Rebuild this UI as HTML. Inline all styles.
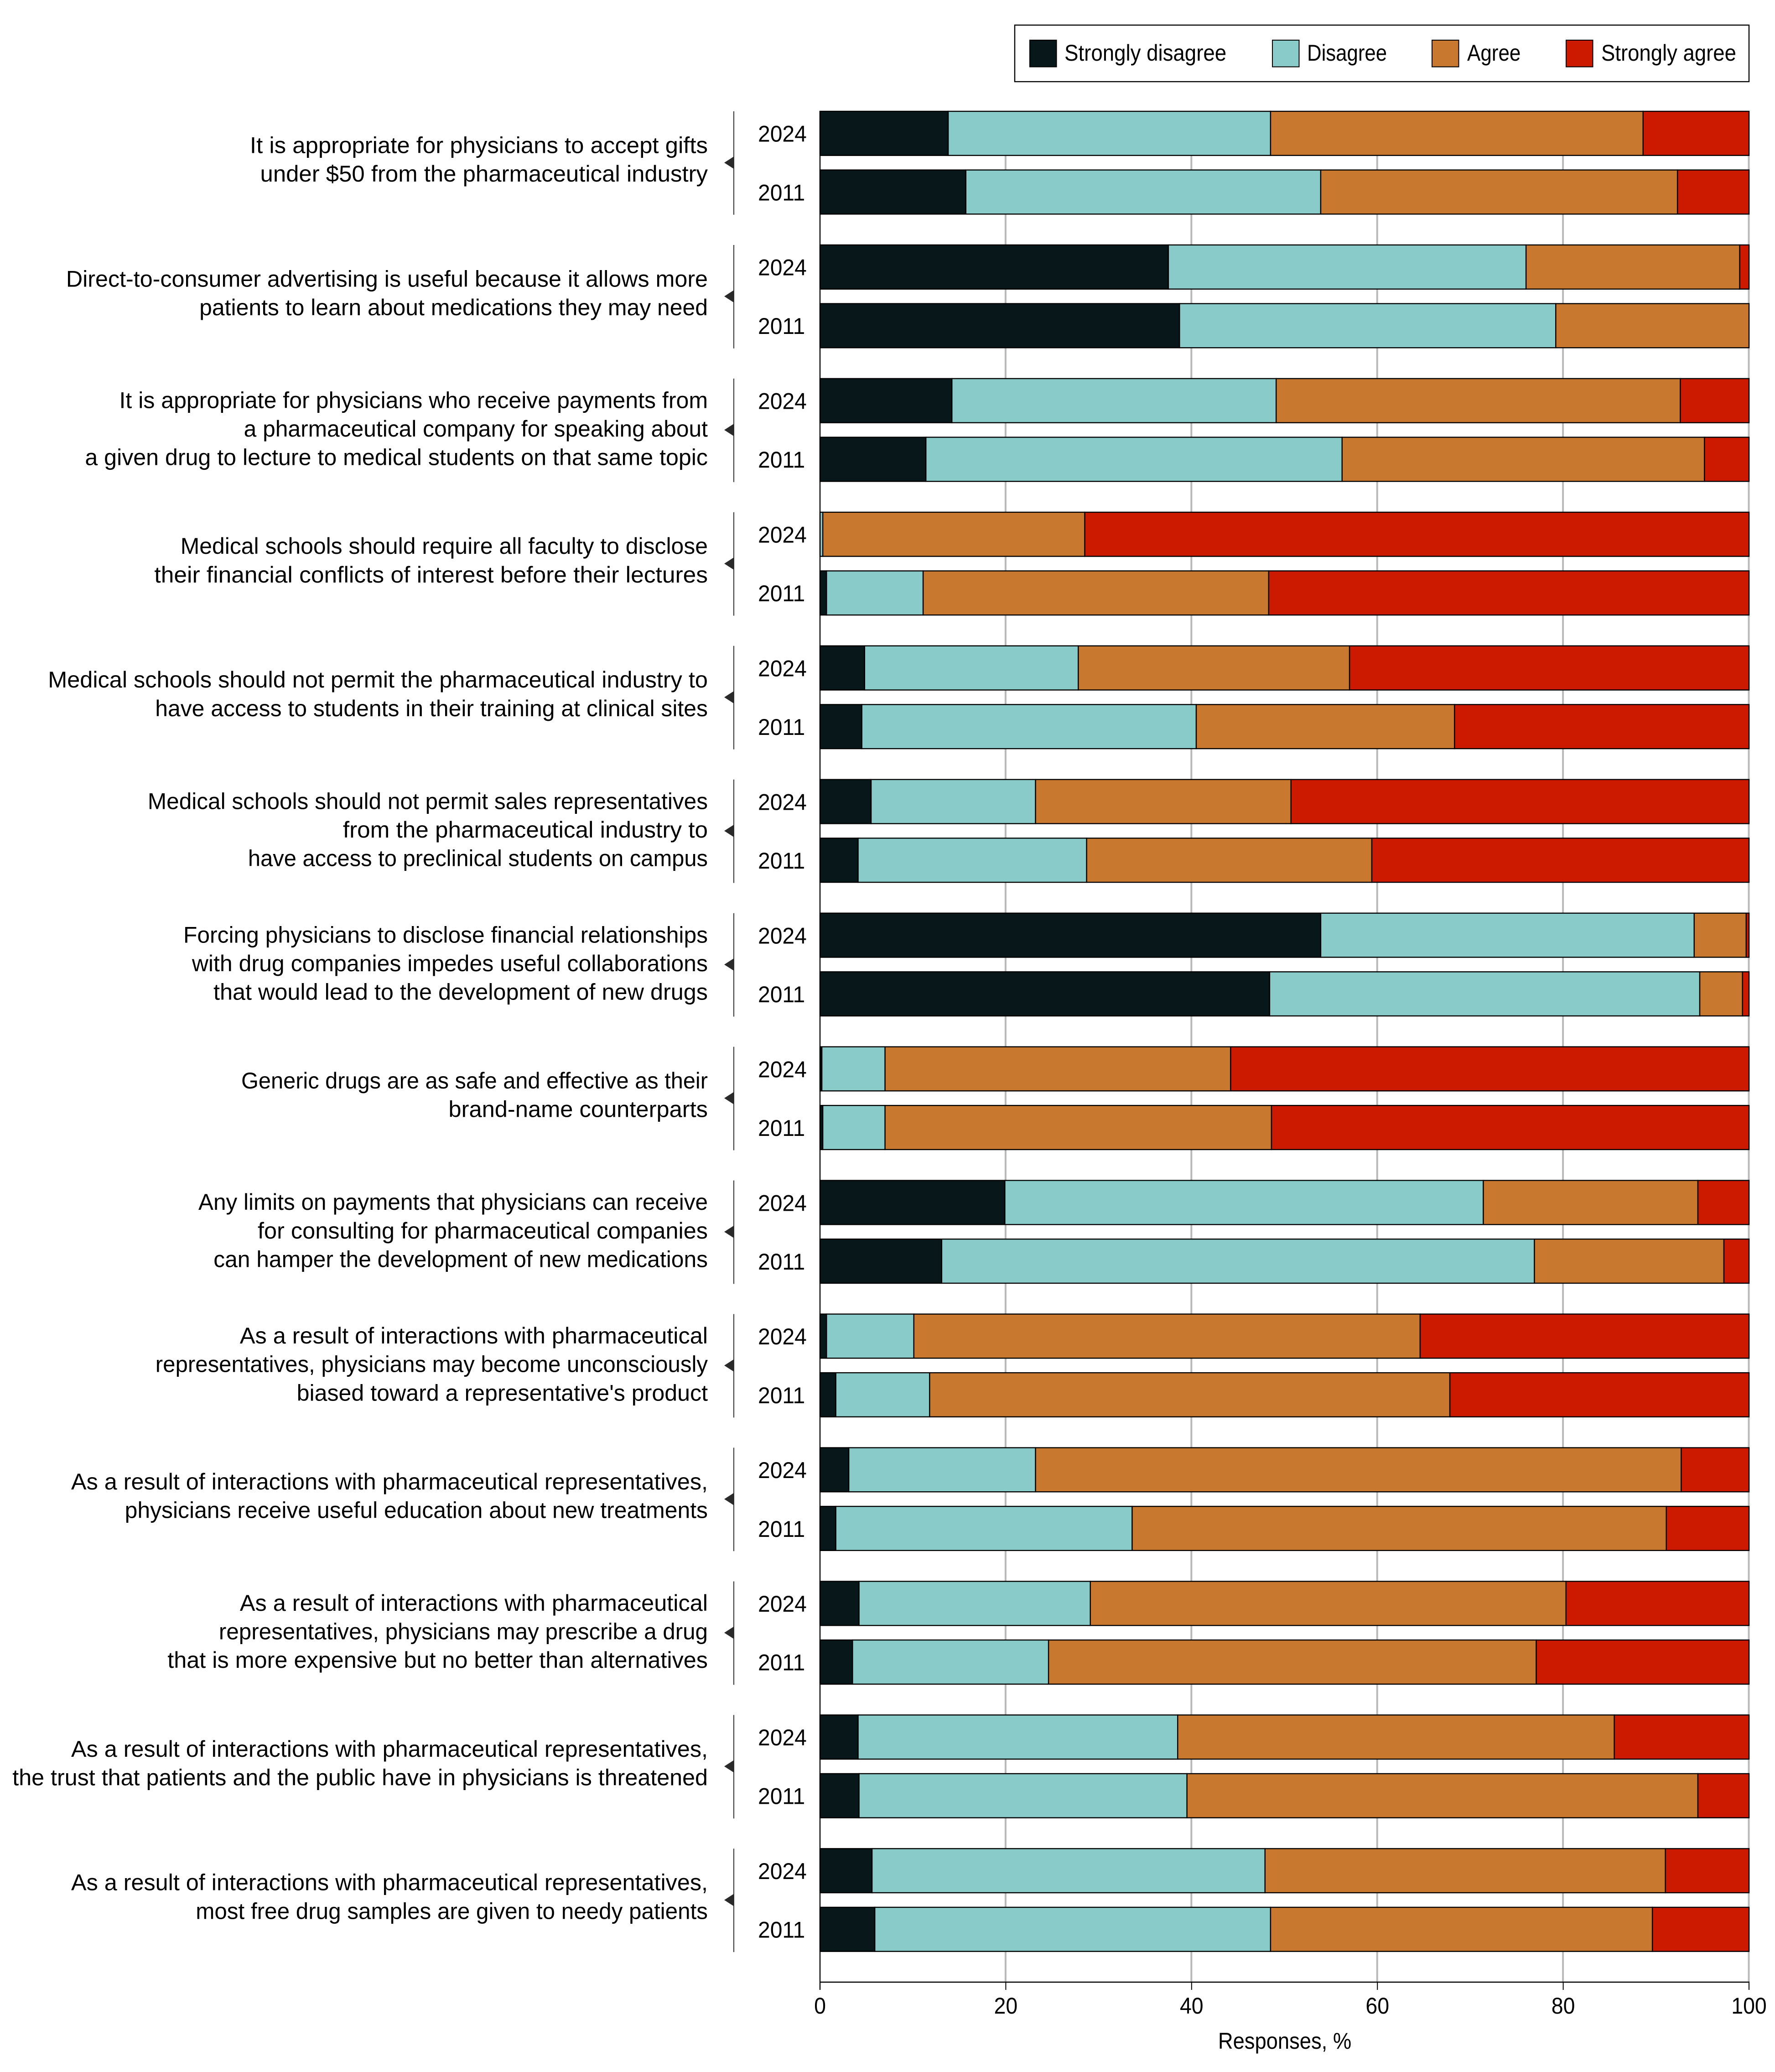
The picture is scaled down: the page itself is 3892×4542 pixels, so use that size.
<!DOCTYPE html>
<html lang="en">
<head>
<meta charset="utf-8">
<title>Physician attitudes toward the pharmaceutical industry, 2011 vs 2024</title>
<style>
  html, body { margin: 0; padding: 0; background: #fff; }
  svg { display: block; }
  text { font-family: "Liberation Sans", sans-serif; fill: #000; }
</style>
</head>
<body>
<svg id="chart" xmlns="http://www.w3.org/2000/svg" width="3892" height="4542" viewBox="0 0 3892 4542">
  <rect x="0" y="0" width="3892" height="4542" fill="#ffffff"/>
  <g id="grid"></g>
  <g id="bars"></g>
  <g id="axis"></g>
  <g id="labels"></g>
  <g>
    <rect x="2225" y="55" width="1610" height="124" fill="#fff" stroke="#000" stroke-width="2.4"/>
    <rect x="2258" y="88" width="58.5" height="58.5" fill="#08181a" stroke="#000" stroke-width="2"/>
    <text transform="translate(2334,133) scale(0.913,1)" font-size="50">Strongly disagree</text>
    <rect x="2790" y="88" width="58.5" height="58.5" fill="#89cbc8" stroke="#000" stroke-width="2"/>
    <text transform="translate(2866,133) scale(0.875,1)" font-size="50">Disagree</text>
    <rect x="3140" y="88" width="58.5" height="58.5" fill="#c8792f" stroke="#000" stroke-width="2"/>
    <text transform="translate(3217,133) scale(0.88,1)" font-size="50">Agree</text>
    <rect x="3434" y="88" width="58.5" height="58.5" fill="#cc1a00" stroke="#000" stroke-width="2"/>
    <text transform="translate(3511,133) scale(0.91,1)" font-size="50">Strongly agree</text>
  </g>
  <text transform="translate(2817,4491) scale(0.907,1)" font-size="50" text-anchor="middle">Responses, %</text>
</svg>
<script>
const statements = [
  ["It is appropriate for physicians to accept gifts", "under $50 from the pharmaceutical industry"],
  ["Direct-to-consumer advertising is useful because it allows more", "patients to learn about medications they may need"],
  ["It is appropriate for physicians who receive payments from", "a pharmaceutical company for speaking about", "a given drug to lecture to medical students on that same topic"],
  ["Medical schools should require all faculty to disclose", "their financial conflicts of interest before their lectures"],
  ["Medical schools should not permit the pharmaceutical industry to", "have access to students in their training at clinical sites"],
  ["Medical schools should not permit sales representatives", "from the pharmaceutical industry to", "have access to preclinical students on campus"],
  ["Forcing physicians to disclose financial relationships", "with drug companies impedes useful collaborations", "that would lead to the development of new drugs"],
  ["Generic drugs are as safe and effective as their", "brand-name counterparts"],
  ["Any limits on payments that physicians can receive", "for consulting for pharmaceutical companies", "can hamper the development of new medications"],
  ["As a result of interactions with pharmaceutical", "representatives, physicians may become unconsciously", "biased toward a representative's product"],
  ["As a result of interactions with pharmaceutical representatives,", "physicians receive useful education about new treatments"],
  ["As a result of interactions with pharmaceutical", "representatives, physicians may prescribe a drug", "that is more expensive but no better than alternatives"],
  ["As a result of interactions with pharmaceutical representatives,", "the trust that patients and the public have in physicians is threatened"],
  ["As a result of interactions with pharmaceutical representatives,", "most free drug samples are given to needy patients"]
];
const years = ["2024", "2011"];
const xTicks = [0, 20, 40, 60, 80, 100];

const stronglyDisagree2024 = [13.8, 37.5, 14.2, 0, 4.8, 5.5, 53.9, 0.2, 19.9, 0.7, 3.1, 4.2, 4.1, 5.6];
const disagree2024 = [34.7, 38.5, 34.9, 0.3, 23.0, 17.7, 40.2, 6.8, 51.5, 9.4, 20.1, 24.9, 34.4, 42.3];
const agree2024 = [40.1, 23.0, 43.5, 28.2, 29.2, 27.5, 5.6, 37.2, 23.1, 54.5, 69.5, 51.2, 47.0, 43.1];
const stronglyAgree2024 = [11.4, 1.0, 7.4, 71.5, 43.0, 49.3, 0.3, 55.8, 5.5, 35.4, 7.3, 19.7, 14.5, 9.0];

const stronglyDisagree2011 = [15.7, 38.7, 11.4, 0.7, 4.5, 4.1, 48.4, 0.3, 13.1, 1.7, 1.7, 3.5, 4.2, 5.9];
const disagree2011 = [38.2, 40.5, 44.8, 10.4, 36.0, 24.6, 46.3, 6.7, 63.8, 10.1, 31.9, 21.1, 35.3, 42.6];
const agree2011 = [38.4, 20.8, 39.0, 37.2, 27.8, 30.7, 4.6, 41.6, 20.4, 56.0, 57.5, 52.5, 55.0, 41.1];
const stronglyAgree2011 = [7.7, 0, 4.8, 51.7, 31.7, 40.6, 0.7, 51.4, 2.7, 32.2, 8.9, 22.9, 5.5, 10.4];

/* horizontal glyph fit for each statement line (type layout, not chart data) */
const lineFit = [
  [1.018, 1.018], [1.005, 0.998], [1.001, 0.995, 1.003], [0.998, 1.03],
  [1.009, 0.998], [0.991, 1.025, 0.978], [0.995, 1.0, 1.008], [0.975, 1.013],
  [0.99, 1.009, 0.995], [1.009, 0.984, 1.003], [1.007, 0.998], [1.009, 0.987, 1.008],
  [1.007, 1.005], [1.007, 0.988]
];

const SVGNS = "http://www.w3.org/2000/svg";
const segmentNames = ["strongly-disagree", "disagree", "agree", "strongly-agree"];
const segmentColors = ["#08181a", "#89cbc8", "#c8792f", "#cc1a00"];
const valuesByYear = [
  [stronglyDisagree2024, disagree2024, agree2024, stronglyAgree2024],
  [stronglyDisagree2011, disagree2011, agree2011, stronglyAgree2011]
];

const X0 = 1798, X100 = 3835;
function xScale(v) { return X0 + (X100 - X0) * v / 100; }
const GROUP_TOP = 244, GROUP_PITCH = 292.95, BAR_STEP = 128.6, BAR_H = 96.7;
function barTop(group, yearIndex) { return GROUP_TOP + group * GROUP_PITCH + yearIndex * BAR_STEP; }
function groupCenter(group) { return GROUP_TOP + group * GROUP_PITCH + (BAR_STEP + BAR_H) / 2; }

function make(tag, attrs, parent, content) {
  const el = document.createElementNS(SVGNS, tag);
  for (const k in attrs) el.setAttribute(k, attrs[k]);
  if (content !== undefined) el.textContent = content;
  parent.appendChild(el);
  return el;
}

const gridG = document.getElementById("grid");
const barsG = document.getElementById("bars");
const axisG = document.getElementById("axis");
const labelsG = document.getElementById("labels");
const AXIS_Y = 4345, TICK_END = 4362, PLOT_TOP = 243;

xTicks.forEach(function (t) {
  if (t > 0) {
    const g = make("line", { x1: xScale(t) - 0.5, x2: xScale(t) - 0.5, y1: PLOT_TOP, y2: AXIS_Y, stroke: "#b8b8b8", "stroke-width": 4 }, gridG);
    
    
  }
  const tick = make("line", { x1: xScale(t), x2: xScale(t), y1: AXIS_Y, y2: TICK_END, stroke: "#000", "stroke-width": 2 }, axisG);
  
  
  const lab = make("text", { transform: "translate(" + xScale(t) + ",4414) scale(0.93,1)", "font-size": 50, "text-anchor": "middle" }, axisG, String(t));
  
  
});

const axisLine = make("line", { x1: X0 - 1, x2: X100 + 1, y1: AXIS_Y, y2: AXIS_Y, stroke: "#000", "stroke-width": 2.4 }, axisG);


const leftAxis = make("line", { x1: X0, x2: X0, y1: PLOT_TOP, y2: TICK_END, stroke: "#000", "stroke-width": 2.4 }, axisG);



statements.forEach(function (lines, g) {
  years.forEach(function (year, yi) {
    const series = valuesByYear[yi];
    let cumulative = 0;
    series.forEach(function (values, s) {
      const v = values[g];
      const rect = make("rect", {
        x: xScale(cumulative),
        y: barTop(g, yi),
        width: xScale(cumulative + v) - xScale(cumulative),
        height: BAR_H,
        fill: segmentColors[s],
        stroke: "#000",
        "stroke-width": 2.4
      }, barsG);
      
      
      cumulative += v;
    });
    const yl = make("text", { transform: "translate(1662," + (barTop(g, yi) + BAR_H / 2 + 18.3) + ") scale(0.96,1)", "font-size": 50 }, labelsG, year);
    
    
  });

  const c = groupCenter(g);
  const bracket = make("line", { x1: 1609, x2: 1609, y1: barTop(g, 0), y2: barTop(g, 1) + BAR_H + 1.5, stroke: "#333", "stroke-width": 2 }, labelsG);
  
  
  const arrow = make("path", { d: "M1609 " + (c - 13.5) + " L1588 " + c + " L1609 " + (c + 13.5) + " Z", fill: "#2a2a2a" }, labelsG);
  
  

  const LINE = 62.6;
  const mid = c + (lines.length === 3 ? 14.5 : 10);
  lines.forEach(function (line, i) {
    const y = mid + (i - (lines.length - 1) / 2) * LINE;
    const t = make("text", { transform: "translate(1552," + y + ") scale(" + lineFit[g][i] + ",1)", "font-size": 50, "text-anchor": "end" }, labelsG, line);
    
    
  });
});
</script>
</body>
</html>
